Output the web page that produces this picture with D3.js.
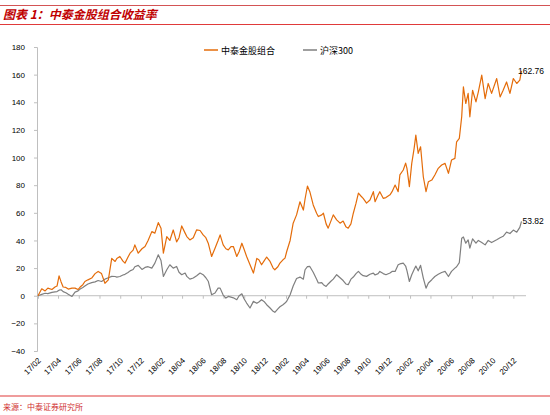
<!DOCTYPE html>
<html><head><meta charset="utf-8">
<script src="https://cdn.jsdelivr.net/npm/d3@7"></script>
<style>
html,body{margin:0;padding:0;background:#fff;}
svg{display:block;}
</style></head>
<body>
<svg id="chart" width="550" height="415"></svg>
<script>
const title = "图表 1：中泰金股组合收益率";
const source = "来源：中泰证券研究所";
const seriesNames = ["中泰金股组合", "沪深300"];
const yTicks = [-40,-20,0,20,40,60,80,100,120,140,160,180];
const dates = [
"2017-02-01","2017-02-12","2017-02-22","2017-03-02","2017-03-14","2017-03-23","2017-03-29","2017-04-04","2017-04-10","2017-04-16",
"2017-04-24","2017-05-01","2017-05-12","2017-05-21","2017-05-30","2017-06-05","2017-06-13","2017-06-19","2017-06-28","2017-07-09",
"2017-07-19","2017-07-28","2017-08-07","2017-08-17","2017-08-27","2017-09-06","2017-09-16","2017-09-21","2017-09-30","2017-10-09",
"2017-10-15","2017-10-24","2017-10-30","2017-11-08","2017-11-13","2017-11-23","2017-12-04","2017-12-13","2017-12-22","2018-01-02",
"2018-01-11","2018-01-21","2018-01-29","2018-02-05","2018-02-15","2018-02-24","2018-03-06","2018-03-16","2018-03-23","2018-03-31",
"2018-04-10","2018-04-15","2018-04-24","2018-05-04","2018-05-14","2018-05-24","2018-06-02","2018-06-10","2018-06-17","2018-06-27",
"2018-07-07","2018-07-16","2018-07-22","2018-07-31","2018-08-08","2018-08-15","2018-08-23","2018-08-30","2018-09-09","2018-09-16",
"2018-09-24","2018-09-30","2018-10-08","2018-10-18","2018-10-28","2018-11-07","2018-11-13","2018-11-21","2018-11-28","2018-12-06",
"2018-12-16","2018-12-25","2018-12-30","2019-01-08","2019-01-14","2019-01-23","2019-01-29","2019-02-03","2019-02-13","2019-02-22",
"2019-03-04","2019-03-14","2019-03-24","2019-03-29","2019-04-05","2019-04-12","2019-04-22","2019-05-02","2019-05-07","2019-05-17",
"2019-05-22","2019-05-30","2019-06-05","2019-06-13","2019-06-20","2019-06-30","2019-07-10","2019-07-19","2019-07-27","2019-08-03",
"2019-08-11","2019-08-18","2019-08-26","2019-09-02","2019-09-10","2019-09-16","2019-09-26","2019-10-06","2019-10-16","2019-10-21",
"2019-10-30","2019-11-04","2019-11-14","2019-11-22","2019-12-04","2019-12-10","2019-12-19","2019-12-28","2020-01-02","2020-01-12",
"2020-01-19","2020-01-23","2020-01-30","2020-02-06","2020-02-13","2020-02-18","2020-02-25","2020-03-03","2020-03-11","2020-03-19",
"2020-03-26","2020-04-05","2020-04-14","2020-04-24","2020-05-04","2020-05-14","2020-05-24","2020-06-02","2020-06-12","2020-06-17",
"2020-06-25","2020-07-02","2020-07-07","2020-07-14","2020-07-21","2020-07-26","2020-08-03","2020-08-13","2020-08-20","2020-08-30",
"2020-09-09","2020-09-18","2020-09-28","2020-10-13","2020-10-23","2020-11-01","2020-11-11","2020-11-21","2020-12-01","2020-12-11",
"2020-12-20","2020-12-25"];
const portfolio = [
0,5,3.5,5.5,4.5,6.3,7,14.4,10,6.3,
6,4.8,5.5,5.5,4.5,6.3,8,10.3,11.5,12.8,
16,17.6,16,9,11.5,27,24.8,27,28.4,25,
23.6,28,30.8,33,36.8,30.8,34,35.6,40,46.4,
45.3,52.9,48.9,30.8,42.8,40,47.6,39,42,50.5,
45.3,42.8,40.4,42,47.7,47.2,44,42,38,28.4,
34.4,40,44,36.8,34,33.2,35.6,35.6,28.4,32,
38,34,28.4,22.4,16.4,27,26,22.4,25,28,
24.8,20,18.8,21,23.6,26,27.2,32,40,52.5,
58.5,68,62,70,79.4,75.3,65.7,59.7,57.3,58.5,
59.7,52,48.9,54,58.5,54.9,52.5,54,50,48.9,
52,59.7,67,74.2,72,70.5,67,69.3,75.3,68,
72.9,75.3,70.5,71,73,75.3,80.1,75.3,87.4,91,
96,92,78.9,95.8,106.6,116.2,103,107.8,86.1,75.3,
82.5,83.7,87.4,92.2,94.6,95.8,88.6,98.2,99.4,111.4,
113.9,129.5,151.1,139.1,146.4,129.5,148.7,140.3,147.6,159.6,
142.7,153.6,146.4,157.2,143.9,148.7,154.7,146.4,157.2,153.6,
156,162.76];
const hs300 = [
0,1,1.8,1.5,2.4,2.8,3,4,4.3,3,
2.2,1,-0.5,2.6,3.5,4.8,6,7,8.5,9.5,
10,11,10.3,12,13,14,13.9,13.5,13.9,15,
15.5,16.8,18,19,21,22,19,20.5,21,20,
23.6,29.6,25.5,13.9,18.8,22.4,20,21.2,17,15.2,
16.4,14,12,12.8,14.5,16.4,15.2,13,10.5,0.7,
2,5.5,5.5,0.5,-1.7,-0.5,-1,-1.5,-2.9,0,
1.4,-2,-5.3,-8.9,-4.1,-5.5,-4.5,-2.9,-4.1,-6.5,
-8.9,-11.3,-12,-9.5,-8,-6.5,-5.3,-4,0.7,7,
12.5,13.5,12,18.8,21,21.2,17,12,9.2,9.5,
8,6.7,8.5,10.5,12,15.2,13,11,8.5,8,
12,13.5,16,17.6,15.5,14.5,14,15.5,16.4,15,
16,17.6,16,15.2,16.5,17.6,17.6,22.4,23,23.6,
21.5,18,10.3,15.2,19,21.5,18,22,12.8,5.5,
9.2,11.6,13.9,15.5,16.8,17.6,13.9,17.6,20,21,
24,41.6,42.5,38,40.4,34.4,41.2,38,40,38.5,
36.8,40,38.5,40.5,42,43,46,45,47.5,46,
49.5,53.82];

const colors = ["#E46C0A", "#7F7F7F"];
const parse = d3.timeParse("%Y-%m-%d");
const dts = dates.map(parse);

const svg = d3.select("#chart");
const red = "#C00000";

// header / footer
svg.append("line").attr("x1",0).attr("x2",550).attr("y1",5.5).attr("y2",5.5).attr("stroke","#C8282A").attr("stroke-width",0.8);
svg.append("text").attr("x",3).attr("y",19).text(title)
  .attr("fill",red).attr("font-family","'Noto Sans CJK SC'").attr("font-weight","bold")
  .attr("font-style","italic").attr("font-size","12px");
svg.append("line").attr("x1",0).attr("x2",550).attr("y1",24.5).attr("y2",24.5).attr("stroke","#E03A3A").attr("stroke-width",1);
svg.append("line").attr("x1",0).attr("x2",550).attr("y1",396).attr("y2",396).attr("stroke","#E03A3A").attr("stroke-width",1.2);
svg.append("text").attr("x",3).attr("y",410).text(source)
  .attr("fill","#D03030").attr("font-family","'Noto Sans CJK SC'").attr("font-size","8px");

const x = d3.scaleTime().domain([dts[0], dts[dts.length-1]]).range([38, 521.5]);
const y = d3.scaleLinear().domain([-40,180]).range([351,47]);

// y axis
const yAxis = svg.append("g").attr("transform","translate(37,0)")
  .call(d3.axisLeft(y).tickValues(yTicks).tickSize(3).tickPadding(9).tickFormat(d3.format("d")));
yAxis.selectAll("path,line").attr("stroke","#BFBFBF");
yAxis.selectAll("text").attr("font-family","'Liberation Sans',Arial").attr("font-size","8px").attr("fill","#000");

// x ticks at zero line (every 2 months starting Feb 2017)
const tickDates = d3.timeMonth.range(new Date(2017,1,1), new Date(2020,11,2), 2);
const xAxis0 = svg.append("g").attr("transform",`translate(0,${y(0)})`)
  .call(d3.axisBottom(x).tickValues(tickDates).tickSize(3).tickFormat(""));
xAxis0.select(".domain").remove();
xAxis0.selectAll("line").attr("stroke","#BFBFBF");
svg.append("line").attr("x1",37).attr("x2",526).attr("y1",y(0)).attr("y2",y(0)).attr("stroke","#BFBFBF").attr("stroke-width",1);

// x labels at bottom
const xAxisB = svg.append("g").attr("transform","translate(0,357)")
  .call(d3.axisBottom(x).tickValues(tickDates).tickSize(0).tickFormat(d3.timeFormat("%y/%m")));
xAxisB.select(".domain").remove();
xAxisB.selectAll("text")
  .attr("font-family","'Liberation Sans',Arial").attr("font-size","8px").attr("fill","#000")
  .attr("text-anchor","end").attr("dy","0.35em").attr("y",0).attr("x",0)
  .attr("transform","translate(1,2) rotate(-45)");

// lines
const line = vals => d3.line().x((d,i)=>x(dts[i])).y(d=>y(d))(vals);
svg.append("path").attr("d",line(hs300)).attr("fill","none").attr("stroke",colors[1]).attr("stroke-width",1.2).attr("stroke-linejoin","round");
svg.append("path").attr("d",line(portfolio)).attr("fill","none").attr("stroke",colors[0]).attr("stroke-width",1.2).attr("stroke-linejoin","round");

// end labels
const last = dts.length-1;
svg.append("text").attr("x",x(dts[last])-3.5).attr("y",y(portfolio[last])+3)
  .text(d3.format(".2f")(portfolio[last])).attr("font-family","'Liberation Sans',Arial").attr("font-size","8.5px");
svg.append("text").attr("x",x(dts[last])+1).attr("y",y(hs300[last])+3)
  .text(d3.format(".2f")(hs300[last])).attr("font-family","'Liberation Sans',Arial").attr("font-size","8.5px");

// legend
const legendX = [204, 303];
seriesNames.forEach((n,i)=>{
  svg.append("line").attr("x1",legendX[i]).attr("x2",legendX[i]+14).attr("y1",50).attr("y2",50)
    .attr("stroke",colors[i]).attr("stroke-width",1.5);
  svg.append("text").attr("x",legendX[i]+17).attr("y",53.5).text(n)
    .attr("font-family","'Noto Sans CJK SC'").attr("font-size","9px").attr("fill","#000");
});
</script>
</body></html>
